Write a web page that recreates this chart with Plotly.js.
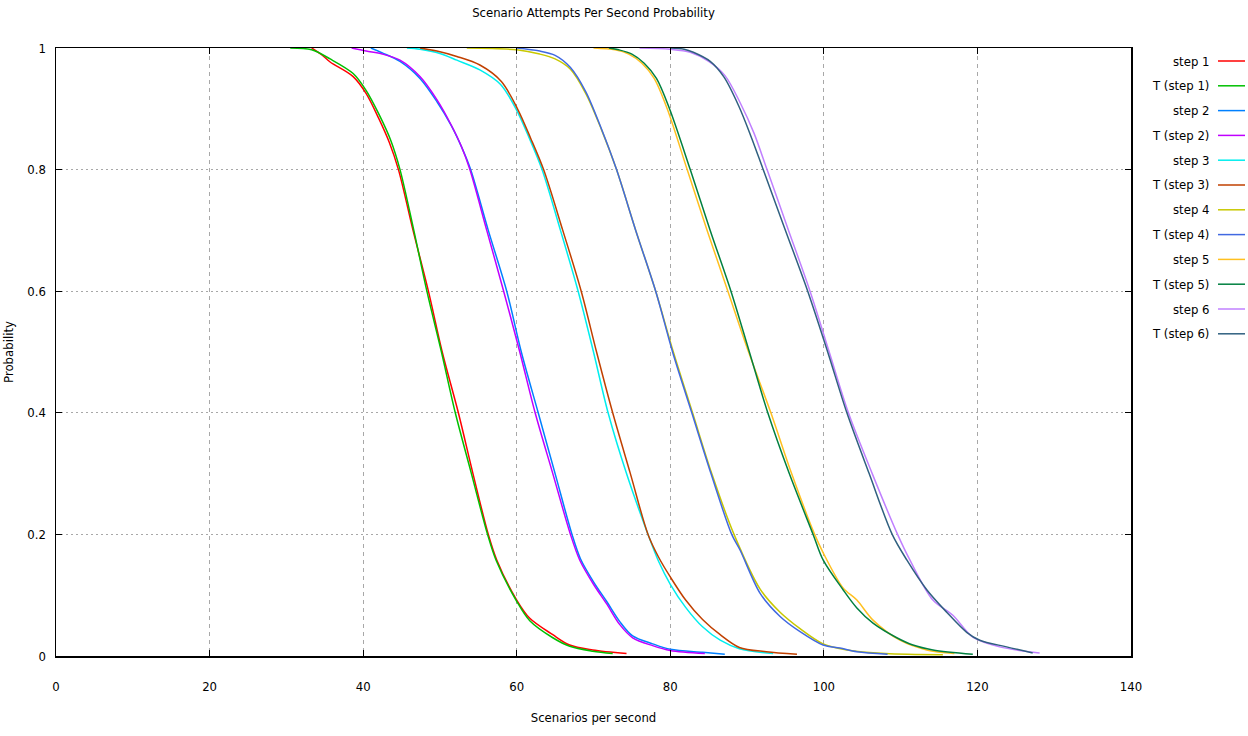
<!DOCTYPE html>
<html>
<head>
<meta charset="utf-8">
<script src="https://cdn.plot.ly/plotly-3.0.1.min.js"></script>
<style>html,body{margin:0;padding:0;background:#fff;}#chart{width:1248px;height:736px;}</style>
</head>
<body>
<div id="chart"></div>
<script>
// ---- data (x = scenarios per second, y = probability) ----
const step1X  = [33.3, 34.5, 35.7, 38.7, 40.4, 42.0, 43.4, 44.6, 46.5, 48.5, 50.3, 52.4, 54.3, 56.3, 57.4, 60.0, 61.7, 64.7, 66.9, 69.9, 74.3];
const step1Y  = [1, 0.99, 0.977, 0.953, 0.925, 0.885, 0.845, 0.8, 0.7, 0.6, 0.5, 0.4, 0.3, 0.2, 0.158, 0.092, 0.062, 0.035, 0.018, 0.01, 0.004];
const tstep1X = [30.5, 33.3, 35.7, 38.7, 40.4, 42.1, 43.6, 44.8, 46.6, 48.3, 50.2, 52.0, 54.1, 56.2, 57.3, 60.0, 61.7, 64.7, 66.9, 69.9, 72.5];
const tstep1Y = [1, 0.997, 0.982, 0.958, 0.93, 0.89, 0.848, 0.8, 0.7, 0.6, 0.5, 0.4, 0.3, 0.2, 0.158, 0.09, 0.058, 0.03, 0.016, 0.008, 0.004];

const step2X  = [41.0, 42.5, 44.8, 47.4, 49.6, 51.5, 53.0, 54.0, 56.3, 58.7, 60.6, 62.8, 65.0, 67.2, 68.3, 70.0, 71.7, 73.4, 75.1, 77.7, 80.0, 84.2, 87.1];
const step2Y  = [1, 0.992, 0.978, 0.95, 0.912, 0.872, 0.832, 0.8, 0.7, 0.6, 0.5, 0.4, 0.3, 0.2, 0.16, 0.122, 0.09, 0.057, 0.033, 0.02, 0.011, 0.006, 0.003];
const tstep2X = [38.5, 40.4, 42.5, 44.8, 47.4, 49.6, 51.4, 52.8, 53.9, 56.1, 58.3, 60.4, 62.4, 64.7, 67.0, 68.2, 70.0, 71.7, 73.4, 75.1, 77.7, 80.0, 84.5];
const tstep2Y = [1, 0.995, 0.99, 0.98, 0.953, 0.915, 0.875, 0.838, 0.8, 0.7, 0.6, 0.5, 0.4, 0.3, 0.2, 0.158, 0.118, 0.086, 0.052, 0.03, 0.017, 0.009, 0.004];

const step3X  = [45.7, 47.4, 50.0, 52.2, 55.2, 57.9, 59.9, 61.6, 63.3, 65.7, 68.0, 70.0, 71.9, 74.3, 77.1, 78.5, 80.0, 82.0, 84.2, 86.5, 89.0, 93.4];
const step3Y  = [1, 0.998, 0.991, 0.98, 0.964, 0.94, 0.9, 0.853, 0.8, 0.7, 0.6, 0.5, 0.4, 0.3, 0.2, 0.155, 0.118, 0.08, 0.048, 0.026, 0.012, 0.004];
const tstep3X = [47.4, 49.6, 52.2, 55.2, 58.0, 60.1, 61.8, 63.5, 66.0, 68.4, 70.4, 72.5, 74.8, 77.1, 78.5, 80.0, 82.0, 84.2, 86.5, 89.0, 92.5, 96.5];
const tstep3Y = [1, 0.995, 0.986, 0.972, 0.945, 0.9, 0.852, 0.8, 0.7, 0.6, 0.5, 0.4, 0.3, 0.2, 0.162, 0.13, 0.092, 0.06, 0.035, 0.014, 0.007, 0.003];

const step4X  = [53.5, 60.0, 63.0, 65.0, 67.0, 69.0, 71.0, 73.0, 75.5, 78.1, 80.4, 82.9, 85.4, 88.3, 91.7, 94.3, 96.9, 99.9, 103.0, 108.0, 115.5];
const step4Y  = [1, 0.997, 0.99, 0.982, 0.965, 0.925, 0.867, 0.8, 0.7, 0.6, 0.5, 0.4, 0.3, 0.2, 0.11, 0.072, 0.045, 0.02, 0.01, 0.004, 0.002];
const tstep4X = [60.0, 63.0, 65.0, 67.0, 69.0, 71.0, 73.0, 75.5, 78.1, 80.3, 82.8, 85.3, 88.0, 89.1, 91.7, 94.3, 96.9, 99.9, 102.1, 104.3, 108.3];
const tstep4Y = [1, 0.995, 0.988, 0.968, 0.928, 0.868, 0.8, 0.7, 0.6, 0.5, 0.4, 0.3, 0.2, 0.174, 0.103, 0.065, 0.04, 0.018, 0.013, 0.007, 0.003];

const step5X  = [70.0, 72.8, 74.6, 76.3, 77.9, 79.6, 82.2, 84.8, 87.5, 90.2, 93.1, 95.8, 98.8, 99.9, 102.5, 104.3, 106.4, 109.9, 113.4, 117.0];
const step5Y  = [1, 0.997, 0.99, 0.975, 0.95, 0.9, 0.8, 0.7, 0.6, 0.5, 0.4, 0.3, 0.2, 0.17, 0.112, 0.092, 0.059, 0.026, 0.01, 0.004];
const tstep5X = [72.0, 73.3, 75.0, 76.6, 78.2, 79.9, 82.6, 85.2, 87.9, 90.3, 92.7, 95.5, 98.6, 99.9, 102.5, 104.3, 106.4, 109.5, 111.6, 114.2, 119.4];
const tstep5Y = [1, 0.997, 0.99, 0.975, 0.95, 0.9, 0.8, 0.7, 0.6, 0.5, 0.4, 0.3, 0.2, 0.158, 0.109, 0.079, 0.054, 0.03, 0.018, 0.01, 0.003];

const step6X  = [76.0, 80.0, 82.6, 85.0, 87.1, 89.1, 90.9, 92.6, 95.4, 98.2, 100.7, 103.2, 106.3, 109.6, 111.2, 114.2, 116.8, 119.4, 122.9, 128.1];
const step6Y  = [1, 0.998, 0.993, 0.978, 0.955, 0.91, 0.86, 0.8, 0.7, 0.6, 0.5, 0.4, 0.3, 0.2, 0.158, 0.092, 0.067, 0.031, 0.015, 0.005];
const tstep6X = [80.0, 81.8, 83.0, 85.2, 87.0, 88.9, 90.5, 92.1, 95.0, 97.9, 100.5, 103.0, 105.9, 108.9, 110.8, 113.4, 116.0, 118.6, 120.3, 123.8, 127.2];
const tstep6Y = [1, 0.998, 0.993, 0.978, 0.952, 0.905, 0.855, 0.8, 0.7, 0.6, 0.5, 0.4, 0.3, 0.2, 0.158, 0.109, 0.072, 0.039, 0.026, 0.015, 0.005];

const seriesNames  = ["step 1", "T (step 1)", "step 2", "T (step 2)", "step 3", "T (step 3)",
                      "step 4", "T (step 4)", "step 5", "T (step 5)", "step 6", "T (step 6)"];
const seriesColors = ["#ff0000", "#00c000", "#0080ff", "#c000ff", "#00eeee", "#c04000",
                      "#c8c800", "#4169e1", "#ffc020", "#008040", "#c080ff", "#306080"];
const seriesX = [step1X, tstep1X, step2X, tstep2X, step3X, tstep3X, step4X, tstep4X, step5X, tstep5X, step6X, tstep6X];
const seriesY = [step1Y, tstep1Y, step2Y, tstep2Y, step3Y, tstep3Y, step4Y, tstep4Y, step5Y, tstep5Y, step6Y, tstep6Y];

const xTicks = [0, 20, 40, 60, 80, 100, 120, 140];
const yTicks = [0, 0.2, 0.4, 0.6, 0.8, 1];

// ---- layout geometry (pixels) ----
const W = 1248, H = 736;
const L = 56, R = 1131, T = 48, B = 656;
const px2paperX = p => (p - L) / (R - L);
const px2paperY = p => (B - p) / (B - T);
const FONT = "DejaVu Sans Condensed, DejaVu Sans Mono, monospace";
const FS = 13;

const traces = seriesNames.map((n, i) => ({
  type: "scatter", mode: "lines", name: n,
  x: seriesX[i], y: seriesY[i],
  line: {color: seriesColors[i], width: 1.5, shape: "spline", smoothing: 0.9},
  showlegend: false, hoverinfo: "skip"
}));

// gnuplot-style key: text right aligned, sample line to the right
const annotations = [];
const shapes = [];
seriesNames.forEach((n, i) => {
  const py = 61 + 24.8 * i;
  annotations.push({
    xref: "paper", yref: "paper", x: px2paperX(1211), y: px2paperY(py),
    xanchor: "right", yanchor: "middle", showarrow: false, text: n,
    font: {family: FONT, size: FS, color: "#000"}
  });
  shapes.push({
    type: "line", xref: "paper", yref: "paper",
    x0: px2paperX(1218), x1: px2paperX(1245), y0: px2paperY(py), y1: px2paperY(py),
    line: {color: seriesColors[i], width: 1.5}
  });
});

const layout = {
  width: W, height: H,
  paper_bgcolor: "#fff", plot_bgcolor: "#fff",
  margin: {l: L, r: W - R, t: T, b: H - B, pad: 0},
  font: {family: FONT, size: FS, color: "#000"},
  title: {text: "Scenario Attempts Per Second Probability", xref: "paper", x: 0.5,
          yref: "container", y: 1 - 12 / H, yanchor: "middle",
          font: {family: FONT, size: FS, color: "#000"}},
  xaxis: {
    range: [0, 140], tickmode: "array", tickvals: xTicks, ticktext: xTicks.map(String),
    ticks: "inside", ticklen: 6, tickwidth: 1, tickcolor: "#000",
    showline: true, linecolor: "#000", linewidth: 1.5, mirror: "ticks",
    showgrid: true, gridcolor: "#a8a8a8", gridwidth: 1, griddash: "4px,4px",
    zeroline: false, ticklabelstandoff: 18,
    title: {text: "Scenarios per second", standoff: 20, font: {family: FONT, size: FS, color: "#000"}},
    automargin: false
  },
  yaxis: {
    range: [0, 1], tickmode: "array", tickvals: yTicks, ticktext: yTicks.map(String),
    ticks: "inside", ticklen: 6, tickwidth: 1, tickcolor: "#000",
    showline: true, linecolor: "#000", linewidth: 1.5, mirror: "ticks",
    showgrid: true, gridcolor: "#a8a8a8", gridwidth: 1, griddash: "2px,3px",
    zeroline: false, ticklabelstandoff: 6,
    title: {text: "Probability", standoff: 11, font: {family: FONT, size: FS, color: "#000"}},
    automargin: false
  },
  annotations: annotations,
  shapes: shapes,
  showlegend: false
};

Plotly.newPlot("chart", traces, layout, {displayModeBar: false, staticPlot: true});
</script>
</body>
</html>
